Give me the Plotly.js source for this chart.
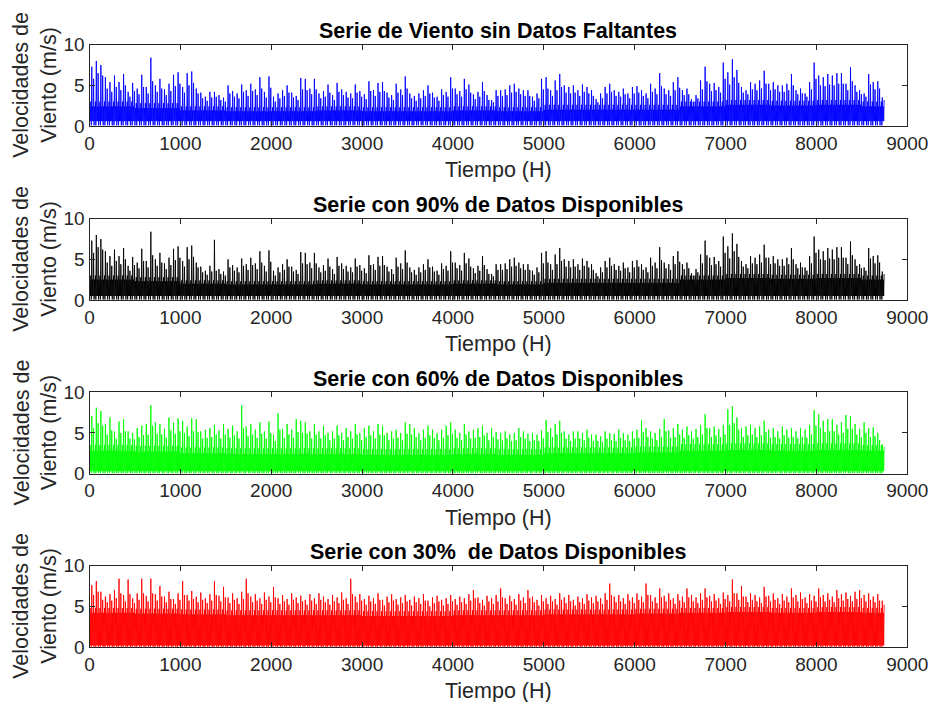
<!DOCTYPE html>
<html><head><meta charset="utf-8">
<script src="https://cdn.plot.ly/plotly-3.0.1.min.js"></script>
<style>html,body{margin:0;padding:0;background:#fff;}#chart{width:931px;height:702px;}</style>
</head><body><div id="chart"></div>
<script>
// ---- data (hours, m/s) ----
const BIN_HOURS = 50;     // peak / mid values: highest and typical upper spike in each 50 h window
const CORE_HOURS = 500;   // core values: top of the solid band in each 500 h window
const panelTitles = [
  'Serie de Viento sin Datos Faltantes',
  'Serie con 90% de Datos Disponibles',
  'Serie con 60% de Datos Disponibles',
  'Serie con 30%  de Datos Disponibles'
];
const xTickVals = [0,1000,2000,3000,4000,5000,6000,7000,8000,9000];
const yTickVals = [0,5,10];
const xLabel = 'Tiempo (H)';
const yLabel = 'Velocidades de<br>Viento (m/s)';

const peakBlue = [
 7.3,8.0,7.5,6.0,5.4,6.2,5.4,6.4,4.2,5.3,
 4.6,6.3,4.8,8.4,5.0,5.8,4.5,5.2,6.3,6.6,
 4.8,6.5,6.7,4.6,4.1,3.6,4.2,4.2,3.8,3.5,
 5.0,4.3,4.0,5.1,4.4,5.2,4.5,6.0,4.2,6.1,
 3.6,4.0,4.4,5.0,4.1,3.7,5.9,5.8,4.6,5.8,
 4.0,4.3,5.1,3.8,5.3,4.5,4.2,4.0,5.1,4.3,
 3.9,5.5,4.4,5.3,5.4,4.1,3.8,5.2,4.5,6.1,
 4.0,3.7,4.0,4.4,5.0,4.1,3.6,4.5,4.2,6.0,
 4.6,4.3,5.8,5.1,3.9,4.2,5.4,3.8,3.2,4.4,
 4.4,4.5,5.0,5.2,4.6,4.4,4.4,3.6,4.0,5.8,
 6.0,4.4,5.6,6.4,5.0,4.8,5.0,4.4,5.1,4.8,
 4.4,3.3,4.0,4.8,5.2,4.4,4.2,4.6,4.0,4.8,
 4.9,4.4,4.0,5.2,4.6,6.5,4.6,4.4,5.4,6.0,
 4.4,4.6,3.3,3.8,5.6,7.3,5.2,5.3,4.8,7.8,
 6.6,8.2,6.9,4.8,4.4,5.4,5.2,5.6,6.8,5.2,
 5.4,5.0,5.0,5.2,6.4,4.4,4.6,4.0,5.4,7.8,
 6.2,6.0,6.4,6.2,6.5,6.5,5.2,7.2,5.0,4.4,
 4.0,6.4,5.4,5.5,3.5
];
const midBlue = [
 5.8,6.5,6.2,4.6,4.2,4.8,4.4,5.0,3.6,4.3,
 3.9,4.8,4.0,5.5,4.2,4.6,3.8,4.3,4.9,5.2,
 4.1,5.0,5.3,4.0,3.4,3.1,3.5,3.6,3.2,3.0,
 4.0,3.6,3.4,4.2,3.7,4.3,3.8,4.6,3.5,4.7,
 3.0,3.4,3.7,4.1,3.5,3.2,4.5,4.4,3.9,4.5,
 3.4,3.6,4.1,3.2,4.2,3.8,3.5,3.4,4.1,3.6,
 3.3,4.3,3.7,4.2,4.3,3.5,3.2,4.1,3.8,4.6,
 3.4,3.1,3.4,3.7,4.0,3.5,3.1,3.8,3.6,4.6,
 3.9,3.6,4.5,4.1,3.3,3.6,4.3,3.2,2.9,3.7,
 3.7,3.8,4.1,4.2,3.9,3.7,3.7,3.1,3.4,4.5,
 4.6,3.7,4.4,4.8,4.1,4.0,4.1,3.7,4.2,4.0,
 3.7,2.9,3.4,4.0,4.2,3.7,3.6,3.9,3.4,4.0,
 4.1,3.7,3.4,4.2,3.9,4.9,3.9,3.7,4.4,4.7,
 3.8,3.9,3.0,3.4,4.5,5.5,4.3,4.4,4.1,5.8,
 5.1,6.0,5.3,4.1,3.9,4.5,4.4,4.6,5.2,4.4,
 4.5,4.2,4.2,4.4,5.0,3.9,4.0,3.6,4.5,5.8,
 5.0,4.9,5.1,5.0,5.2,5.2,4.4,5.5,4.2,3.9,
 3.6,5.1,4.5,4.6,3.2
];
const peakBlack = [
 7.3,8.0,7.5,6.0,5.4,6.2,5.4,6.4,4.2,5.3,
 4.6,6.3,4.8,8.4,5.0,5.8,4.5,5.2,6.3,6.6,
 4.8,6.5,6.7,4.6,4.1,3.6,4.2,7.4,3.8,3.5,
 5.0,4.3,4.0,5.1,4.4,5.2,4.5,6.0,4.2,6.1,
 3.6,4.0,4.4,5.0,4.1,3.7,5.9,5.8,4.6,5.8,
 4.0,4.3,5.1,3.8,5.3,4.5,4.2,4.0,5.1,4.3,
 3.9,5.5,4.4,5.3,5.4,4.1,3.8,5.2,4.5,6.1,
 4.0,3.7,4.0,4.4,5.0,4.1,3.6,4.5,4.2,6.0,
 4.6,4.3,5.8,5.1,3.9,4.2,5.4,3.8,3.2,4.4,
 4.4,4.5,5.0,5.2,4.6,4.4,4.4,3.6,4.0,5.8,
 6.0,4.4,5.6,6.4,5.0,4.8,5.0,4.4,5.1,4.8,
 4.4,3.3,4.0,4.8,5.2,4.4,4.2,4.6,4.0,4.8,
 4.9,4.4,4.0,5.2,4.6,6.5,4.6,4.4,5.4,6.0,
 4.4,4.6,3.3,3.8,5.6,7.3,5.2,5.3,4.8,7.8,
 6.6,8.2,6.9,4.8,4.4,5.4,5.2,5.6,6.8,5.2,
 5.4,5.0,5.0,5.2,6.4,4.4,4.6,4.0,5.4,7.8,
 6.2,6.0,6.4,6.2,6.5,6.5,5.2,7.2,5.0,4.4,
 4.0,6.4,5.4,5.5,3.5
];
const midBlack = midBlue; // the 90 % series keeps the same measured hours
const peakGreen = [
 7.1,8.1,7.7,6.1,6.9,5.2,6.4,6.7,5.2,5.0,
 5.6,5.9,6.1,8.4,6.3,6.1,5.5,6.9,6.3,6.8,
 6.5,5.8,6.8,6.7,5.2,5.4,5.6,6.0,5.3,6.1,
 5.5,5.9,5.2,8.4,5.8,6.1,5.4,6.3,5.2,6.4,
 4.8,7.4,5.5,6.1,5.4,6.7,6.5,6.3,5.2,6.1,
 5.2,5.9,5.0,5.2,5.9,5.0,5.6,5.2,6.1,5.0,
 5.6,5.9,5.2,6.1,5.9,5.0,5.2,5.4,5.0,6.3,
 6.1,5.6,5.0,5.4,5.9,5.4,5.0,5.4,5.9,6.3,
 5.4,5.0,6.1,5.2,5.4,5.6,5.9,5.0,5.6,5.1,
 5.0,5.2,4.8,5.0,5.6,5.2,4.9,5.0,4.8,5.3,
 6.6,5.6,6.1,6.5,5.2,4.8,5.2,5.2,5.0,5.4,
 4.8,4.8,4.6,5.2,5.0,4.9,5.4,5.0,4.8,5.2,
 5.4,6.6,5.6,5.2,5.0,5.5,6.7,5.3,5.6,6.1,
 5.4,5.8,5.2,5.5,6.0,7.3,5.6,5.8,5.5,6.0,
 7.9,8.3,6.9,5.6,5.8,6.0,5.6,5.8,6.5,5.4,
 5.6,5.2,5.8,5.4,5.6,5.2,5.6,5.4,6.0,7.8,
 7.3,6.5,6.7,6.7,6.0,6.3,7.2,7.1,6.1,5.5,
 6.3,5.6,5.7,5.0,3.6
];
const midGreen = [
 5.6,6.2,5.9,4.8,5.3,4.3,5.0,5.2,4.3,4.2,
 4.5,4.7,4.8,5.9,4.9,4.8,4.4,5.3,4.9,5.2,
 5.0,4.6,5.2,5.1,4.3,4.4,4.5,4.8,4.3,4.8,
 4.4,4.7,4.3,5.6,4.6,4.8,4.4,4.9,4.3,5.0,
 4.0,5.4,4.4,4.8,4.4,5.1,5.0,4.9,4.3,4.8,
 4.3,4.7,4.1,4.3,4.7,4.1,4.5,4.3,4.8,4.1,
 4.5,4.7,4.3,4.8,4.7,4.1,4.3,4.4,4.1,4.9,
 4.8,4.5,4.1,4.4,4.7,4.4,4.1,4.4,4.7,4.9,
 4.4,4.1,4.8,4.3,4.4,4.5,4.7,4.1,4.5,4.2,
 4.1,4.3,4.0,4.1,4.5,4.3,4.0,4.1,4.0,4.3,
 5.1,4.5,4.8,5.0,4.3,4.0,4.3,4.3,4.1,4.4,
 4.0,4.0,3.9,4.3,4.1,4.0,4.4,4.1,4.0,4.3,
 4.4,5.1,4.5,4.3,4.1,4.5,5.2,4.4,4.5,4.8,
 4.4,4.7,4.3,4.5,4.8,5.6,4.5,4.7,4.5,4.8,
 6.0,6.2,5.4,4.5,4.7,4.8,4.5,4.7,5.1,4.4,
 4.5,4.3,4.7,4.4,4.5,4.3,4.5,4.4,4.8,5.9,
 5.6,5.1,5.2,5.2,4.8,5.0,5.5,5.5,4.8,4.5,
 5.0,4.5,4.6,4.1,3.3
];
const peakRed = [
 7.6,8.1,6.8,6.2,6.5,7.0,8.4,6.4,8.3,6.0,
 6.6,8.4,6.3,8.4,6.5,7.5,6.2,6.8,5.9,6.6,
 8.1,6.4,6.9,6.2,6.7,6.0,6.5,8.1,6.3,7.4,
 6.1,6.6,6.0,6.8,8.4,6.2,6.5,6.0,6.7,6.2,
 7.4,6.0,6.4,5.9,6.6,6.1,6.3,5.8,6.5,6.0,
 6.6,6.2,5.9,6.4,6.1,6.7,6.0,8.4,6.2,6.5,
 5.9,6.3,6.0,6.6,5.8,6.2,6.5,5.9,6.1,6.4,
 5.8,6.2,6.0,6.5,5.7,6.1,6.3,5.8,6.0,6.4,
 5.9,6.2,6.0,6.5,7.0,6.1,5.8,6.3,6.0,6.4,
 7.2,6.0,6.3,5.9,6.5,6.1,7.0,6.2,5.8,6.4,
 6.0,6.3,5.9,6.6,6.1,6.4,5.8,6.2,6.0,6.5,
 6.1,6.3,6.0,6.6,7.8,6.2,6.4,6.0,6.5,6.1,
 6.6,6.2,7.8,6.4,6.1,7.2,6.3,6.6,6.0,6.5,
 6.2,7.2,6.4,6.1,6.6,7.2,6.3,6.5,6.0,6.7,
 6.4,8.3,6.6,7.5,6.2,6.6,6.4,6.1,7.4,6.3,
 6.6,6.0,6.5,6.2,7.2,6.4,6.7,6.1,6.5,6.3,
 7.2,6.4,6.6,6.2,7.0,6.5,6.7,6.3,6.8,7.0,
 6.4,6.6,6.2,6.5,5.7
];
const midRed = [
 6.4,6.8,5.8,5.5,5.7,6.0,6.6,5.6,6.5,5.4,
 5.8,6.6,5.6,6.6,5.7,6.2,5.5,5.9,5.3,5.8,
 6.4,5.7,5.9,5.5,5.8,5.4,5.7,6.4,5.6,6.1,
 5.4,5.8,5.3,5.9,6.6,5.5,5.7,5.3,5.8,5.5,
 6.1,5.3,5.6,5.2,5.8,5.4,5.6,5.2,5.7,5.3,
 5.8,5.5,5.2,5.6,5.4,5.8,5.3,6.5,5.5,5.7,
 5.2,5.6,5.3,5.8,5.1,5.5,5.7,5.2,5.4,5.6,
 5.1,5.5,5.3,5.7,5.0,5.4,5.6,5.1,5.3,5.6,
 5.2,5.5,5.3,5.7,6.0,5.4,5.1,5.6,5.3,5.6,
 6.1,5.3,5.6,5.2,5.7,5.4,6.0,5.5,5.1,5.6,
 5.3,5.6,5.2,5.8,5.4,5.6,5.1,5.5,5.3,5.7,
 5.4,5.6,5.3,5.8,6.4,5.5,5.6,5.3,5.7,5.4,
 5.8,5.5,6.4,5.6,5.4,6.1,5.6,5.8,5.3,5.7,
 5.5,6.1,5.6,5.4,5.8,6.1,5.6,5.7,5.3,5.9,
 5.6,6.6,5.8,6.2,5.5,5.8,5.6,5.4,6.2,5.6,
 5.8,5.3,5.7,5.5,6.1,5.6,5.9,5.4,5.7,5.6,
 6.1,5.6,5.8,5.5,6.0,5.7,5.9,5.6,5.9,6.0,
 5.6,5.8,5.5,5.7,5.2
];

// top of the solid band (lo) and of its ragged fringe (hi), per 500 h
const coreLoBlue  = [2.4,2.2,1.9,1.8,1.8,1.9,1.8,1.8,1.9,1.8,2.0,2.0,2.0,2.4,2.6,2.5,2.6,2.4];
const coreHiBlue  = [3.0,2.8,2.4,2.3,2.3,2.4,2.3,2.3,2.4,2.3,2.6,2.6,2.6,3.0,3.2,3.1,3.2,3.0];
const coreLoBlack = [2.5,2.3,2.0,1.9,1.9,2.0,1.9,1.9,2.0,1.9,2.1,2.1,2.1,2.5,2.7,2.6,2.7,2.5];
const coreHiBlack = [3.0,2.8,2.4,2.3,2.3,2.4,2.3,2.3,2.4,2.3,2.6,2.6,2.6,3.0,3.2,3.1,3.2,3.0];
const coreLoGreen = [2.8,2.7,2.5,2.4,2.4,2.4,2.3,2.3,2.4,2.3,2.5,2.5,2.6,2.8,2.9,2.8,2.9,2.8];
const coreHiGreen = [3.5,3.4,3.2,3.1,3.1,3.1,3.0,3.0,3.1,3.0,3.2,3.2,3.3,3.6,3.7,3.6,3.7,3.5];
const coreLoRed   = [4.2,4.1,4.0,3.9,3.9,3.9,3.8,3.8,3.9,3.9,4.0,4.0,4.1,4.2,4.3,4.2,4.3,4.2];
const coreHiRed   = [4.8,4.7,4.6,4.5,4.5,4.5,4.4,4.4,4.5,4.5,4.6,4.6,4.7,4.8,4.9,4.8,4.9,4.8];

// typical minima (low) and deepest dips (floor) of each series
const lowBlue = 0.6,  floorBlue = 0.08;
const lowBlack = 0.5, floorBlack = 0.06;
const lowGreen = 0.3, floorGreen = 0.04;
const lowRed = 0.2,   floorRed = 0.03;

// ---- rendering ----
const seriesDefs = [
  {peaks: peakBlue,  mids: midBlue,  lo: coreLoBlue,  hi: coreHiBlue,  low: lowBlue,  floor: floorBlue,  color: '#0000FF'},
  {peaks: peakBlack, mids: midBlack, lo: coreLoBlack, hi: coreHiBlack, low: lowBlack, floor: floorBlack, color: '#000000'},
  {peaks: peakGreen, mids: midGreen, lo: coreLoGreen, hi: coreHiGreen, low: lowGreen, floor: floorGreen, color: '#00FF00'},
  {peaks: peakRed,   mids: midRed,   lo: coreLoRed,   hi: coreHiRed,   low: lowRed,   floor: floorRed,   color: '#FF0000'}
];
// order in which the read levels are visited inside one 50 h window
const PATTERN = ['floor','lo','low','hi','floor','peak','low','lo','low','mid'];

function buildSeries(d) {
  const x = [], y = [];
  const step = BIN_HOURS / PATTERN.length;
  d.peaks.forEach((p, i) => {
    const c = Math.min(d.lo.length - 1, Math.floor(i * BIN_HOURS / CORE_HOURS));
    PATTERN.forEach((k, j) => {
      x.push(i * BIN_HOURS + j * step);
      let v;
      if (k === 'peak') v = p;
      else if (k === 'mid') v = d.mids[i];
      else if (k === 'lo') v = d.lo[c];
      else if (k === 'hi') v = d.hi[c];
      else if (k === 'low') v = d.low;
      else v = d.floor;
      y.push(v);
    });
  });
  return {x, y};
}

const W = 931, H = 702;
const LEFT = 89.5, RIGHT = 907.3;
const TOPS = [44.7, 218.7, 392.3, 565.7];
const BOX_H = 81.3;
const FONT = 'Liberation Sans, Arial, Helvetica, sans-serif';
const AXC = '#262626';

const traces = [];
const layout = {
  width: W, height: H, autosize: false,
  margin: {l: 0, r: 0, t: 0, b: 0},
  paper_bgcolor: '#fff', plot_bgcolor: '#fff',
  showlegend: false,
  font: {family: FONT, color: AXC},
  annotations: []
};

seriesDefs.forEach((d, i) => {
  const s = buildSeries(d);
  const n = i + 1;
  const sx = n === 1 ? '' : String(n);
  traces.push({
    type: 'scatter', mode: 'lines', x: s.x, y: s.y,
    xaxis: 'x' + sx, yaxis: 'y' + sx,
    line: {color: d.color, width: 0.9}, hoverinfo: 'skip'
  });
  const top = TOPS[i], bot = top + BOX_H;
  const common = {
    showgrid: false, zeroline: false, showline: true, mirror: 'ticks',
    linecolor: AXC, linewidth: 1, ticks: 'inside', ticklen: 5, tickwidth: 1, tickcolor: AXC,
    tickfont: {family: FONT, size: 19, color: AXC}, fixedrange: true
  };
  layout['xaxis' + sx] = Object.assign({}, common, {
    domain: [LEFT / W, RIGHT / W], range: [0, 9000],
    tickmode: 'array', tickvals: xTickVals, ticktext: xTickVals.map(String),
    anchor: 'y' + sx
  });
  layout['yaxis' + sx] = Object.assign({}, common, {
    domain: [1 - bot / H, 1 - top / H], range: [0, 10],
    tickmode: 'array', tickvals: yTickVals, ticktext: yTickVals.map(String),
    anchor: 'x' + sx
  });
  layout.annotations.push({
    xref: 'paper', yref: 'paper', x: (LEFT + RIGHT) / 2 / W, y: 1 - (top - 13.5) / H,
    xanchor: 'center', yanchor: 'middle', showarrow: false,
    text: '<b>' + panelTitles[i] + '</b>', font: {family: FONT, size: 21.5, color: '#000'}
  });
  layout.annotations.push({
    xref: 'paper', yref: 'paper', x: (LEFT + RIGHT) / 2 / W, y: 1 - (bot + 44) / H,
    xanchor: 'center', yanchor: 'middle', showarrow: false,
    text: xLabel, font: {family: FONT, size: 21.5, color: AXC}
  });
  layout.annotations.push({
    xref: 'paper', yref: 'paper', x: 35.5 / W, y: 1 - (top + BOX_H / 2) / H,
    xanchor: 'center', yanchor: 'middle', showarrow: false, textangle: -90,
    text: yLabel, font: {family: FONT, size: 21.5, color: AXC}
  });
});

Plotly.newPlot('chart', traces, layout, {staticPlot: true, displayModeBar: false});
</script></body></html>
